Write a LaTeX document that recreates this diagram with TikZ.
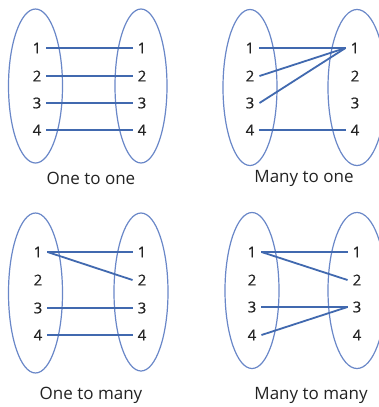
\documentclass[tikz,border=0pt]{standalone}
\usepackage{fontspec}
\setmainfont{Open Sans}
\newfontfamily\numfont[FakeBold=0.6]{Open Sans}
\definecolor{ringblue}{RGB}{105,135,200}
\definecolor{linkblue}{RGB}{65,105,175}
\definecolor{txtgray}{RGB}{35,35,35}
\tikzset{
  setring/.style={draw=ringblue, line width=1.2pt},
  link/.style={draw=linkblue, line width=1.8pt},
  num/.style={text=txtgray, font=\numfont\fontsize{15}{15}\selectfont, inner xsep=5pt, inner ysep=2pt},
  caption/.style={text=txtgray, font=\fontsize{17}{17}\selectfont}
}
\begin{document}
\begin{tikzpicture}[x=1pt,y=-1pt]
\useasboundingbox (0,0) rectangle (378,407);
\fill[white] (0,0) rectangle (378,407);
% ---------- Panel 1: One to one ----------
\draw[setring] (35.5,86) ellipse [x radius=27, y radius=77];
\draw[setring] (141,86) ellipse [x radius=26, y radius=77];
\foreach \i/\y in {1/48,2/76,3/103,4/130}{
  \node[num] (a\i) at (37,\y) {\i};
  \node[num] (b\i) at (142,\y) {\i};
}
\draw[link] (a1.east) -- (b1.west);
\draw[link] (a2.east) -- (b2.west);
\draw[link] (a3.east) -- (b3.west);
\draw[link] (a4.east) -- (b4.west);
\node[caption] (cap1) at (91,178) {One to one};
% ---------- Panel 2: Many to one ----------
\draw[setring] (250,87.5) ellipse [x radius=27, y radius=78];
\draw[setring] (357,87.5) ellipse [x radius=29, y radius=78];
\foreach \i/\y in {1/48,2/76,3/103,4/130}{
  \node[num] (c\i) at (250,\y) {\i};
  \node[num] (d\i) at (355,\y) {\i};
}
\draw[link] (c1.east) -- (d1.west);
\draw[link] (c2.east) -- (d1.west);
\draw[link] (c3.east) -- (d1.west);
\draw[link] (c4.east) -- (d4.west);
\node[caption] (cap2) at (304,178) {Many to one};
% ---------- Panel 3: One to many ----------
\draw[setring] (35.5,293) ellipse [x radius=27, y radius=80];
\draw[setring] (141,292) ellipse [x radius=27, y radius=79];
\foreach \i/\y in {1/252,2/280,3/308,4/335}{
  \node[num] (e\i) at (38,\y) {\i};
  \node[num] (f\i) at (142,\y) {\i};
}
\draw[link] (e1.east) -- (f1.west);
\draw[link] (e1.east) -- (f2.west);
\draw[link] (e3.east) -- (f3.west);
\draw[link] (e4.east) -- (f4.west);
\node[caption] (cap3) at (91,395) {One to many};
% ---------- Panel 4: Many to many ----------
\draw[setring] (252,290.5) ellipse [x radius=27, y radius=78];
\draw[setring] (357,290.5) ellipse [x radius=29, y radius=78];
\foreach \i/\y in {1/252,2/280,3/307,4/335}{
  \node[num] (g\i) at (252,\y) {\i};
  \node[num] (h\i) at (357,\y) {\i};
}
\draw[link] (g1.east) -- (h1.west);
\draw[link] (g1.east) -- (h2.west);
\draw[link] (g3.east) -- (h3.west);
\draw[link] (g4.east) -- (h3.west);
\node[caption] (cap4) at (311,395) {Many to many};
\end{tikzpicture}
\end{document}
